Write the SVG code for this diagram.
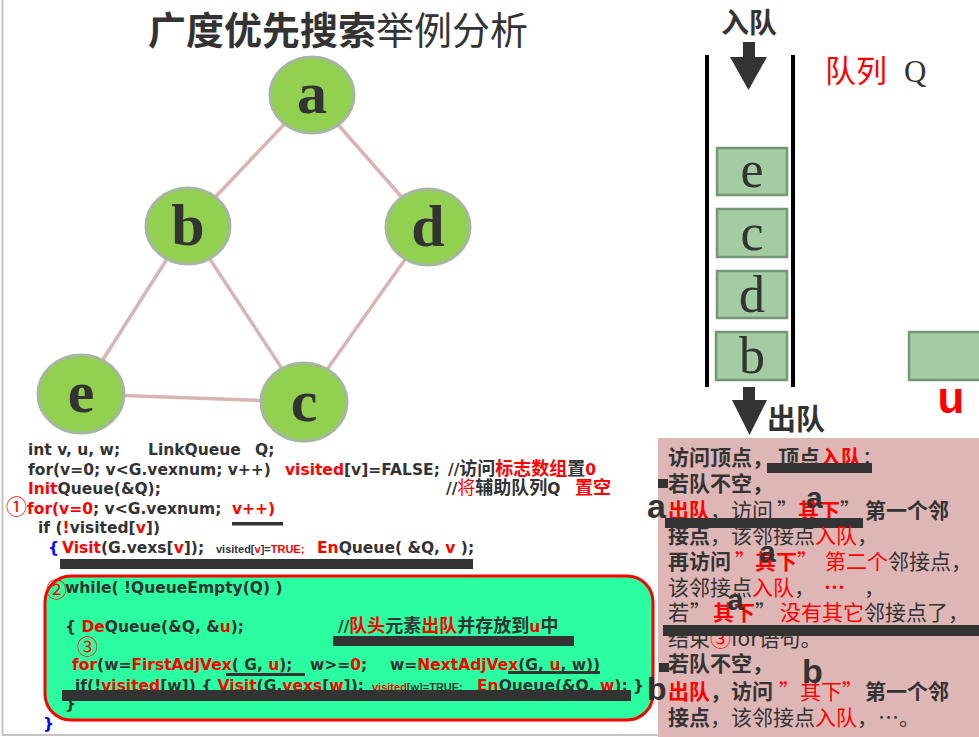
<svg xmlns="http://www.w3.org/2000/svg" width="979" height="737" viewBox="0 0 979 737">
<style>
.c{font-family:"DejaVu Sans","Noto Sans CJK SC",sans-serif;font-weight:bold;font-size:15.5px;fill:#333}
.z{font-family:"Noto Sans CJK SC",sans-serif;font-size:18px}
.cj{font-family:"Noto Sans CJK SC",sans-serif;font-weight:normal}
.r{fill:#ff0000}
.bl{fill:#0000ff}
.s{font-family:"Liberation Sans",sans-serif;font-size:11px}
.t{font-family:"Noto Sans CJK SC",sans-serif;font-size:21px;fill:#333}
.b{font-weight:bold}
.nl{font-family:"Liberation Serif",serif;font-weight:bold;font-size:60px;fill:#333;text-anchor:middle}
.ql{font-family:"Liberation Serif",serif;font-size:52px;fill:#333;text-anchor:middle}
.big{font-family:"Liberation Sans",sans-serif;font-weight:bold;fill:#333}
.bar{fill:#333}
.node{fill:#92d050;stroke:#a6b6a2;stroke-width:3}
.qbox{fill:#a3cca3;stroke:#769676;stroke-width:2.5}
.edge{stroke:#dab4b4;stroke-width:3.5;fill:none}
</style>
<rect x="0" y="0" width="979" height="737" fill="#fff"/>
<line x1="2.5" y1="0" x2="2.5" y2="735" stroke="#c4c4c4" stroke-width="2"/>
<line x1="2" y1="735" x2="660" y2="735" stroke="#c4c4c4" stroke-width="2"/>

<text x="148" y="44" style="font-family:'Noto Sans CJK SC',sans-serif;font-size:38px;fill:#333"><tspan font-weight="bold">广度优先搜索</tspan><tspan>举例分析</tspan></text>

<g id="connectors">
<line class="edge" x1="312" y1="95" x2="188" y2="226"/>
<line class="edge" x1="312" y1="95" x2="428" y2="227"/>
<line class="edge" x1="188" y1="226" x2="81" y2="394"/>
<line class="edge" x1="188" y1="226" x2="304" y2="402"/>
<line class="edge" x1="428" y1="227" x2="304" y2="402"/>
<line class="edge" x1="81" y1="394" x2="304" y2="402"/>
</g>

<g id="node-a"><ellipse class="node" cx="312" cy="95" rx="42" ry="38"/><text class="nl" x="312" y="113">a</text></g>
<g id="node-b"><ellipse class="node" cx="188" cy="226" rx="42" ry="38"/><text class="nl" x="188" y="245">b</text></g>
<g id="node-d"><ellipse class="node" cx="428" cy="227" rx="42" ry="38"/><text class="nl" x="428" y="246">d</text></g>
<g id="node-e"><ellipse class="node" cx="81" cy="394" rx="43" ry="39"/><text class="nl" x="81" y="412">e</text></g>
<g id="node-c"><ellipse class="node" cx="304" cy="402" rx="43" ry="39"/><text class="nl" x="304" y="421">c</text></g>

<g id="queue">
<text x="749" y="33" text-anchor="middle" style="font-family:'Noto Sans CJK SC',sans-serif;font-weight:bold;font-size:28px;fill:#333">入队</text>
<rect class="bar" x="743" y="42" width="12" height="16"/>
<polygon class="bar" points="730,57 767,57 748.5,90"/>
<line x1="707" y1="55" x2="707" y2="387" stroke="#000" stroke-width="4"/>
<line x1="793" y1="55" x2="793" y2="387" stroke="#000" stroke-width="4"/>
<text y="82" style="font-family:'Noto Sans CJK SC',sans-serif;font-size:31px"><tspan x="825" fill="#ff0000">队列</tspan><tspan x="904" fill="#333" style="font-family:'Liberation Serif',serif">Q</tspan></text>
<g id="q-e"><rect class="qbox" x="717" y="148" width="70" height="47"/><text class="ql" x="752" y="187">e</text></g>
<g id="q-c"><rect class="qbox" x="717" y="209" width="70" height="48"/><text class="ql" x="752" y="250">c</text></g>
<g id="q-d"><rect class="qbox" x="717" y="271" width="70" height="47"/><text class="ql" x="752" y="312">d</text></g>
<g id="q-b"><rect class="qbox" x="716" y="332" width="71" height="48"/><text class="ql" x="752" y="373">b</text></g>
<g id="u-box"><rect class="qbox" x="909" y="332" width="75" height="48"/><text x="951" y="413" text-anchor="middle" class="big" style="font-size:44px;fill:#ff0000">u</text></g>
<rect class="bar" x="743" y="387" width="12" height="14"/>
<polygon class="bar" points="732,400 767,400 749.5,435"/>
<text x="767" y="430" style="font-family:'Noto Sans CJK SC',sans-serif;font-weight:bold;font-size:29px;fill:#333">出队</text>
</g>

<g id="code">
<text class="c" y="455"><tspan x="28">int v, u, w;</tspan><tspan x="148">LinkQueue</tspan><tspan x="255">Q;</tspan></text>
<text class="c" y="475"><tspan x="28">for(v=0; v&lt;G.vexnum; v++)</tspan><tspan x="285" class="r">visited</tspan><tspan>[v]=FALSE;</tspan><tspan x="448">//</tspan><tspan class="z">访问</tspan><tspan class="z r">标志数组</tspan><tspan class="z">置</tspan><tspan class="r">0</tspan></text>
<text class="c" y="494"><tspan x="28" class="r">Init</tspan><tspan>Queue(&amp;Q);</tspan><tspan x="446">//</tspan><tspan class="z r" style="font-weight:normal">将</tspan><tspan class="z">辅助队列</tspan><tspan>Q</tspan><tspan x="575" class="z r">置空</tspan></text>
<text class="c" y="514"><tspan x="6" class="r cj" style="font-size:21px">①</tspan><tspan x="27" class="r">for(v=0</tspan><tspan>; v&lt;G.vexnum;</tspan><tspan x="232" class="r">v++)</tspan></text>
<rect class="bar" x="232" y="522" width="51" height="3.5"/>
<text class="c" y="533"><tspan x="38">if (</tspan><tspan class="r">!</tspan><tspan>visited[</tspan><tspan class="r">v</tspan><tspan>])</tspan></text>
<text class="c" y="553"><tspan x="48" class="bl">{</tspan><tspan x="62" class="r">Visit</tspan><tspan>(G.vexs[</tspan><tspan class="r">v</tspan><tspan>]);</tspan><tspan x="216" class="s">visited[</tspan><tspan class="s r">v</tspan><tspan class="s">]=</tspan><tspan class="s r">TRUE;</tspan><tspan x="317" class="r">En</tspan><tspan>Queue( &amp;Q, </tspan><tspan class="r">v</tspan><tspan> );</tspan></text>
<rect class="bar" x="60" y="559" width="413" height="10"/>

<rect x="45" y="576" width="608" height="144" rx="26" ry="26" fill="#2bfea0" stroke="#ff0000" stroke-width="3"/>
<text x="46" y="597" class="r cj" style="font-size:21px">②</text>
<text class="c" x="65" y="593">while( !QueueEmpty(Q) )</text>
<text class="c" y="632"><tspan x="65">{ </tspan><tspan class="r">De</tspan><tspan>Queue(&amp;Q, &amp;</tspan><tspan class="r">u</tspan><tspan>);</tspan><tspan x="338">//</tspan><tspan class="z r">队头</tspan><tspan class="z">元素</tspan><tspan class="z r">出队</tspan><tspan class="z">并存放到</tspan><tspan class="r">u</tspan><tspan class="z">中</tspan></text>
<rect class="bar" x="333" y="636" width="241" height="10"/>
<text x="77" y="654" class="r cj" style="font-size:21px">③</text>
<text class="c" y="670"><tspan x="72" class="r">for</tspan><tspan>(w=</tspan><tspan class="r">FirstAdjVex</tspan><tspan>( G, </tspan><tspan class="r">u</tspan><tspan>);</tspan><tspan x="310">w&gt;=</tspan><tspan class="r">0</tspan><tspan>;</tspan><tspan x="390">w=</tspan><tspan class="r">NextAdjVex</tspan><tspan>(G, </tspan><tspan class="r">u</tspan><tspan>, w))</tspan></text>
<rect class="bar" x="226" y="673" width="79" height="3"/>
<rect class="bar" x="508" y="671" width="92" height="3"/>
<text class="c" y="691"><tspan x="75">if(!</tspan><tspan class="r">visited</tspan><tspan>[w]) { </tspan><tspan class="r">Visit</tspan><tspan>(G.</tspan><tspan class="r">vexs</tspan><tspan>[</tspan><tspan class="r">w</tspan><tspan>]);</tspan><tspan x="372" class="s r">visited</tspan><tspan class="s">[w]=TRUE;</tspan><tspan x="477" class="r">En</tspan><tspan>Queue(&amp;Q, </tspan><tspan class="r">w</tspan><tspan>); }</tspan></text>
<rect class="bar" x="62" y="690" width="569" height="11"/>
<text class="c" x="65" y="709">}</text>
<text class="c bl" x="43" y="729">}</text>
</g>

<g id="explain">
<rect x="658" y="438" width="321" height="299" fill="#deb6b6"/>
<text class="t" y="465"><tspan x="668" class="b">访问顶点，</tspan><tspan x="778" class="b">顶点</tspan><tspan class="b r">入队</tspan><tspan>；</tspan></text>
<rect class="bar" x="767" y="463" width="105" height="10"/>
<rect class="bar" x="658" y="479" width="10" height="9"/>
<text class="t b" x="668" y="491">若队不空，</text>
<text class="t" y="518"><tspan x="668" class="b r">出队</tspan><tspan>，访问</tspan><tspan x="777">”</tspan><tspan x="798" class="b r">其下</tspan><tspan>”</tspan><tspan x="865" class="b">第一个邻</tspan></text>
<rect class="bar" x="665" y="518" width="198" height="10"/>
<text class="t" y="543"><tspan x="668" class="b">接点</tspan><tspan>，该邻接点</tspan><tspan class="r">入队</tspan><tspan>，</tspan></text>
<text class="t" y="569"><tspan x="668" class="b">再访问</tspan><tspan x="735" class="r">”</tspan><tspan x="755" class="b r">其下</tspan><tspan class="r">”</tspan><tspan x="825" class="r">第二个</tspan><tspan>邻接点，</tspan></text>
<text class="t" y="595"><tspan x="668">该邻接点</tspan><tspan class="r">入队</tspan><tspan>，</tspan><tspan x="824" class="r b">…</tspan><tspan x="864">，</tspan></text>
<text class="t" y="620"><tspan x="668">若</tspan><tspan x="690">”</tspan><tspan x="713" class="b r">其下</tspan><tspan>”</tspan><tspan x="780" class="r">没有其它</tspan><tspan>邻接点了，</tspan></text>
<text class="t" y="646"><tspan x="668">结束</tspan><tspan class="r">③</tspan><tspan>for语句。</tspan></text>
<rect class="bar" x="663" y="625" width="316" height="11"/>
<rect class="bar" x="659" y="663" width="10" height="9"/>
<text class="t b" x="668" y="671">若队不空，</text>
<text class="t" y="699"><tspan x="668" class="b r">出队</tspan><tspan class="b">，访问</tspan><tspan x="779" class="r">”</tspan><tspan x="800" class="r">其下</tspan><tspan class="r">”</tspan><tspan x="865" class="b">第一个邻</tspan></text>
<text class="t" y="725"><tspan x="668" class="b">接点</tspan><tspan>，该邻接点</tspan><tspan class="r">入队</tspan><tspan>，…。</tspan></text>
<text class="big" x="647" y="518" style="font-size:34px">a</text>
<text class="big" x="806" y="508" style="font-size:30px">a</text>
<text class="big" x="759" y="562" style="font-size:30px">a</text>
<text class="big" x="727" y="610" style="font-size:30px">a</text>
<text class="big" x="802" y="683" style="font-size:34px">b</text>
<text class="big" x="647" y="700" style="font-size:32px">b</text>
</g>
</svg>
